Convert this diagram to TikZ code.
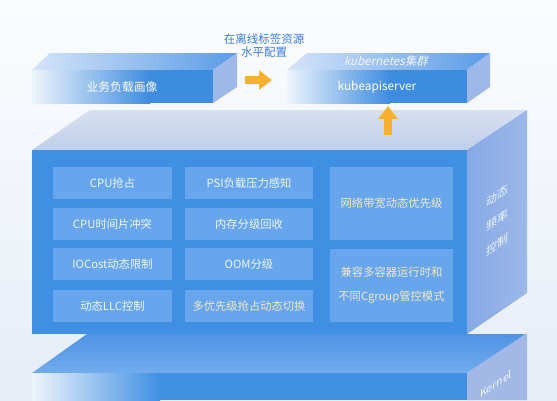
\documentclass[tikz,border=0pt]{standalone}
\usepackage{fontspec}
\setmainfont{Noto Sans CJK SC}
\newfontfamily\cjkit[FakeSlant=0.22]{Noto Sans CJK SC}
\usetikzlibrary{arrows.meta}
\definecolor{bgA}{HTML}{FBFCFE}
\definecolor{bgB}{HTML}{E6EDF7}
\definecolor{frontblue}{HTML}{3F8FE2}
\definecolor{cellblue}{HTML}{67A6EC}
\definecolor{topgreyA}{HTML}{D7E0F0}
\definecolor{topgreyB}{HTML}{BFCFEA}
\definecolor{sideA}{HTML}{86A9E4}
\definecolor{sideB}{HTML}{9DB8EA}
\definecolor{slabblue}{HTML}{3D8CE0}
\definecolor{slabtopA}{HTML}{D5E4F8}
\definecolor{slabtopB}{HTML}{5A9BE6}
\definecolor{slabside}{HTML}{9FB8EA}
\definecolor{fadewhite}{HTML}{EEF4FB}
\definecolor{kerntopA}{HTML}{4F93E3}
\definecolor{kerntopB}{HTML}{72ACEE}
\definecolor{kernside}{HTML}{A2B9E8}
\definecolor{arroworange}{HTML}{F8B12F}
\definecolor{labelblue}{HTML}{3A7ED8}
\definecolor{paleyellow}{HTML}{F3E8C4}
\definecolor{palewhite}{HTML}{F2F7FF}
\tikzset{
  cell/.style={fill=cellblue, inner sep=0pt, text=palewhite, font=\fontsize{11.3}{13}\selectfont, align=center},
  warmcell/.style={cell, text=paleyellow},
  slabtext/.style={text=white, font=\fontsize{11.8}{13}\selectfont},
  facetext/.style={text=palewhite, font=\fontsize{11}{24.5}\selectfont, align=center, transform shape},
  blockarrow/.style={draw=arroworange, line width=8pt, -{Triangle[width=19pt,length=13pt]}, arroworange}
}
\begin{document}
\begin{tikzpicture}[x=1pt,y=-1pt]
% background
\shade[top color=bgA, bottom color=bgB] (0,0) rectangle (557,400);
\useasboundingbox (0,0) rectangle (557,400);

% ---------- top-left slab ----------
\shade[left color=slabtopA, right color=slabtopB] (50,53) -- (237,53) -- (213,70) -- (32,70) -- cycle;
\fill[slabside] (213,70) -- (237,53) -- (237,87) -- (213,103) -- cycle;
\shade[left color=fadewhite, right color=slabblue] (32,70) rectangle (150,103);
\fill[slabblue] (149.5,70) rectangle (213,103);
\node[slabtext] (load) at (122,87) {业务负载画像};

% ---------- kubernetes slab ----------
\shade[left color=slabtopA, right color=slabtopB] (307,53) -- (490,53) -- (467,70) -- (287,70) -- cycle;
\fill[slabside] (467,70) -- (490,53) -- (490,87) -- (467,103) -- cycle;
\shade[left color=fadewhite, right color=slabblue] (287,70) rectangle (390,103);
\fill[slabblue] (389.5,70) rectangle (467,103);
\node[text=palewhite, font=\cjkit\fontsize{11.6}{13}\selectfont] (k8s) at (386,61) {kubernetes集群};
\node[slabtext] (api) at (377,87) {kubeapiserver};

% label + right arrow
\node[text=labelblue, font=\fontsize{11.5}{13}\selectfont, align=center] (lbl) at (264,46) {在离线标签资源\\水平配置};
\coordinate (ra1) at (245,80);
\coordinate (ra2) at (272,80);
\draw[blockarrow] (ra1) -- (ra2);

% ---------- kernel box (behind) ----------
\shade[top color=kerntopA, bottom color=kerntopB] (87,334) -- (527,334) -- (467,373) -- (32,373) -- cycle;
\fill[kernside] (467,373) -- (527,333) -- (527,400) -- (467,400) -- cycle;
\shade[left color=fadewhite, right color=frontblue] (32,373) rectangle (160,400);
\fill[frontblue] (159.5,373) rectangle (467,400);
\begin{scope}[shift={(496,384)}, yslant=0.667]
  \node[facetext, font=\fontsize{10.5}{12}\selectfont] (kern) at (0,0) {Kernel};
\end{scope}

% ---------- main box ----------
\shade[top color=topgreyA, bottom color=topgreyB] (90,110) -- (527,110) -- (467,150) -- (32,150) -- cycle;
\shade[left color=sideA, right color=sideB] (467,150) -- (527,110) -- (527,293) -- (467,334) -- cycle;
\fill[frontblue] (32,150) rectangle (467,334);
\begin{scope}[shift={(497,220)}, yslant=0.667]
  \node[facetext] (freq) at (0,0) {动态\\频率\\控制};
\end{scope}

% up arrow
\coordinate (ua1) at (388,135);
\coordinate (ua2) at (388,106);
\draw[blockarrow] (ua1) -- (ua2);

% ---------- cells ----------
\node[cell, minimum width=119pt, minimum height=32pt] (c11) at (112.5,183) {CPU抢占};
\node[cell, minimum width=119pt, minimum height=32pt] (c21) at (112.5,224) {CPU时间片冲突};
\node[cell, minimum width=119pt, minimum height=32pt] (c31) at (112.5,264) {IOCost动态限制};
\node[cell, minimum width=119pt, minimum height=32pt] (c41) at (112.5,306) {动态LLC控制};
\node[cell, minimum width=128pt, minimum height=32pt] (c12) at (249,183) {PSI负载压力感知};
\node[cell, minimum width=128pt, minimum height=32pt] (c22) at (249,224) {内存分级回收};
\node[cell, minimum width=128pt, minimum height=32pt] (c32) at (249,264) {OOM分级};
\node[warmcell, minimum width=128pt, minimum height=32pt] (c42) at (249,306) {多优先级抢占动态切换};
\node[warmcell, minimum width=123pt, minimum height=73pt] (c13) at (391.5,203.5) {网络带宽动态优先级};
\node[warmcell, minimum width=123pt, minimum height=73pt, font=\fontsize{11.3}{24}\selectfont] (c23) at (391.5,285.5) {兼容多容器运行时和\\不同Cgroup管控模式};
\end{tikzpicture}
\end{document}
